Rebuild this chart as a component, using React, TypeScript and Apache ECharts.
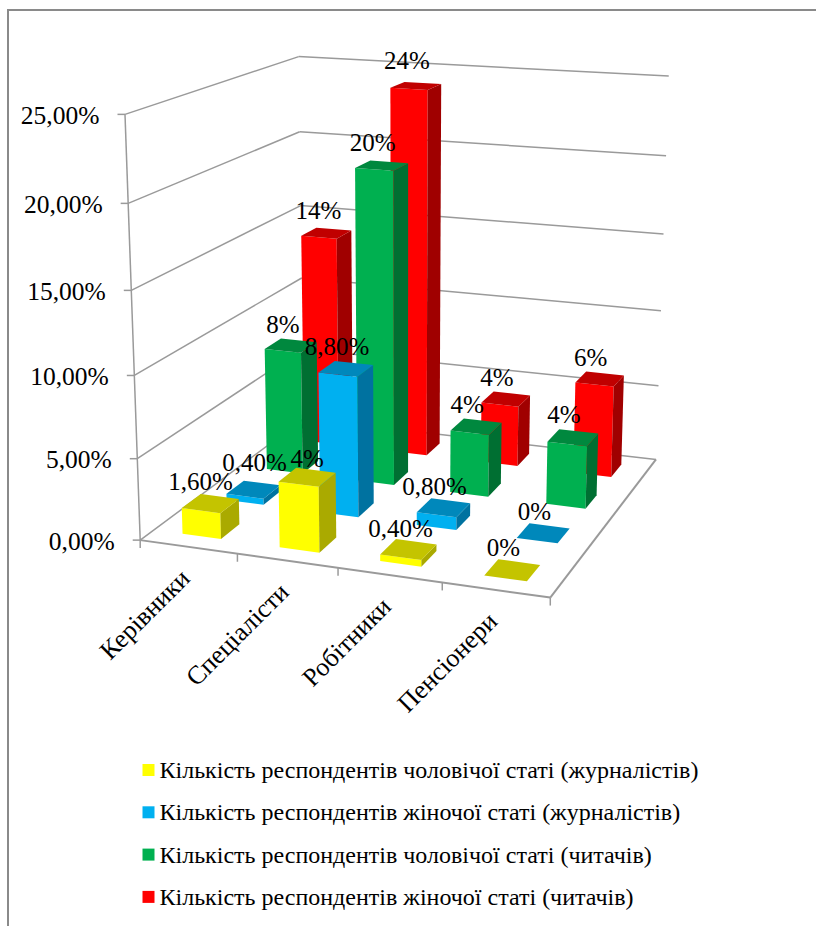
import React, { useEffect, useRef } from "react";
import * as echarts from "echarts";

// Survey data, in percent
const categories = ["Керівники", "Спеціалісти", "Робітники", "Пенсіонери"];
const maleJournalists = [1.6, 4, 0.4, 0];
const femaleJournalists = [0.4, 8.8, 0.8, 0];
const maleReaders = [8, 20, 4, 4];
const femaleReaders = [14, 24, 4, 6];
const valueTicks = [0, 5, 10, 15, 20, 25];
const maleJournalistLabels = ["1,60%", "4%", "0,40%", "0%"];
const femaleJournalistLabels = ["0,40%", "8,80%", "0,80%", "0%"];
const maleReaderLabels = ["8%", "20%", "4%", "4%"];
const femaleReaderLabels = ["14%", "24%", "4%", "6%"];
const seriesNames = [
  "Кількість респондентів чоловічої статі (журналістів)",
  "Кількість респондентів жіночої статі (журналістів)",
  "Кількість респондентів чоловічої статі (читачів)",
  "Кількість респондентів жіночої статі (читачів)",
];

const FONT = '"Liberation Serif", "Times New Roman", serif';
const AXIS_COLOR = "#9a9a9a";

// Front, side and top shades of each series, front row first
const palettes = [
  { front: "#FFFF00", side: "#AAAA00", top: "#C4C400" },
  { front: "#00B0F0", side: "#0072A0", top: "#0088BB" },
  { front: "#00B050", side: "#006F32", top: "#00883E" },
  { front: "#FF0000", side: "#A00000", top: "#C00000" },
];

// Label offsets from a bar's top centre, by series then category
const labelOffsets = [
  [[-10, -22], [0, -19], [-8, -21], [-9, -23]],
  [[1, -27], [-9, -22], [-9, -21], [-9, -22]],
  [[-8, -21], [-9, -23], [-9, -22], [-9, -23]],
  [[-8, -23], [-9, -25], [-9, -22], [-9, -21]],
];

// Box corners (across, depth, height) in unit space and where they land on screen
const cameraAnchors: [number, number, number, number, number][] = [
  [0, 0, 0, 140, 541],
  [1, 0, 0, 550, 597],
  [1, 1, 0, 656, 460],
  [0, 1, 0, 304, 418],
  [0, 0, 1, 125.5, 114],
  [0, 1, 1, 298, 57],
  [1, 1, 1, 669, 76],
];

// Least-squares fit of the projective camera through the anchors
function fitCamera() {
  const rows: number[][] = [];
  const rhs: number[] = [];
  for (const [u, v, h, x, y] of cameraAnchors) {
    rows.push([u, v, h, 1, 0, 0, 0, 0, -x * u, -x * v, -x * h]);
    rhs.push(x);
    rows.push([0, 0, 0, 0, u, v, h, 1, -y * u, -y * v, -y * h]);
    rhs.push(y);
  }
  const n = 11;
  const m = Array.from({ length: n }, () => new Array(n + 1).fill(0));
  rows.forEach((r, k) => {
    for (let i = 0; i < n; i++) {
      for (let j = 0; j < n; j++) m[i][j] += r[i] * r[j];
      m[i][n] += r[i] * rhs[k];
    }
  });
  for (let c = 0; c < n; c++) {
    let p = c;
    for (let r = c + 1; r < n; r++) if (Math.abs(m[r][c]) > Math.abs(m[p][c])) p = r;
    [m[c], m[p]] = [m[p], m[c]];
    for (let r = 0; r < n; r++) {
      if (r === c) continue;
      const f = m[r][c] / m[c][c];
      for (let j = c; j <= n; j++) m[r][j] -= f * m[c][j];
    }
  }
  return m.map((row, i) => row[n] / row[i]);
}

const cam = fitCamera();
function project(u: number, v: number, h: number): [number, number] {
  const w = cam[8] * u + cam[9] * v + cam[10] * h + 1;
  return [
    (cam[0] * u + cam[1] * v + cam[2] * h + cam[3]) / w,
    (cam[4] * u + cam[5] * v + cam[6] * h + cam[7]) / w,
  ];
}

// Hidden cartesian grid: its scales turn data into unit-box coordinates
const GRID = { left: 100, top: 100, width: 400, height: 400 };
const BAR_SHARE = 0.4;
const DEPTH_SHARE = 0.42;
const ROWS = 4;

function unitPos(api: any, cat: number, value: number) {
  const p = api.coord([cat, value]);
  return {
    u: (p[0] - GRID.left) / GRID.width,
    h: (GRID.top + GRID.height - p[1]) / GRID.height,
  };
}

function barFaces(row: number) {
  return (_: any, api: any) => {
    const { u, h } = unitPos(api, api.value(0), api.value(1));
    const halfU = (BAR_SHARE * 0.25) / 2;
    const halfV = (DEPTH_SHARE / ROWS) / 2;
    const vc = (row + 0.5) / ROWS;
    const [u0, u1, v0, v1] = [u - halfU, u + halfU, vc - halfV, vc + halfV];
    const c = palettes[row];
    const poly = (pts: number[][], fill: string) => ({
      type: "polygon",
      shape: { points: pts.map((q) => project(q[0], q[1], q[2])) },
      style: { fill },
    });
    const faces: any[] = [];
    if (h > 0) {
      faces.push(poly([[u0, v0, 0], [u1, v0, 0], [u1, v0, h], [u0, v0, h]], c.front));
      faces.push(poly([[u1, v0, 0], [u1, v1, 0], [u1, v1, h], [u1, v0, h]], c.side));
    }
    faces.push(poly([[u0, v0, h], [u1, v0, h], [u1, v1, h], [u0, v1, h]], c.top));
    return { type: "group", children: faces };
  };
}

const line = (a: number[], b: number[], width = 1.5) => ({
  type: "line",
  shape: { x1: a[0], y1: a[1], x2: b[0], y2: b[1] },
  style: { stroke: AXIS_COLOR, lineWidth: width },
});

// Walls, floor outline, ticks and axis texts
function renderTick(_: any, api: any) {
  const tick = api.value(1);
  const { h } = unitPos(api, 0, tick);
  const front = project(0, 0, h);
  const back = project(0, 1, h);
  const right = project(1, 1, h);
  const label = tick.toFixed(2).replace(".", ",") + "%";
  return {
    type: "group",
    children: [
      line(front, back),
      line(back, right),
      line([front[0] - 7.5, front[1]], front),
      {
        type: "text",
        style: {
          x: front[0] - 25.5,
          y: front[1] + 1,
          text: label,
          align: "right",
          verticalAlign: "middle",
          fontFamily: FONT,
          fontSize: 25.5,
          fill: "#000",
        },
      },
    ],
  };
}

function renderCategoryAxis(_: any, api: any) {
  const cat = api.value(0);
  const { u } = unitPos(api, cat, 0);
  const edge = u - 0.125;
  const t = project(edge, 0, 0);
  const c = project(u, 0, 0);
  return {
    type: "group",
    children: [
      line(t, [t[0], t[1] + 8]),
      {
        type: "text",
        x: c[0] - 3,
        y: c[1] + 27,
        rotation: Math.PI / 4,
        style: {
          x: 0,
          y: 0,
          text: categories[cat],
          align: "right",
          verticalAlign: "middle",
          fontFamily: FONT,
          fontSize: 26,
          fill: "#000",
        },
      },
    ],
  };
}

function renderFloor() {
  const a = project(0, 0, 0);
  const b = project(1, 0, 0);
  const c = project(1, 1, 0);
  return {
    type: "group",
    children: [
      line(project(0, 0, 1), a),
      line(a, b, 2),
      line(b, c, 2),
      line(b, [b[0], b[1] + 8]),
    ],
  };
}

function renderLabel(row: number, texts: string[]) {
  return (_: any, api: any) => {
    const cat = api.value(0);
    const { u, h } = unitPos(api, cat, api.value(1));
    const p = project(u, (row + 0.5) / ROWS, h);
    const off = labelOffsets[row][cat];
    return {
      type: "text",
      style: {
        x: p[0] + off[0],
        y: p[1] + off[1],
        text: texts[cat],
        align: "center",
        verticalAlign: "middle",
        fontFamily: FONT,
        fontSize: 25,
        fill: "#000",
      },
    };
  };
}

export default function App() {
  const ref = useRef<HTMLDivElement>(null);
  useEffect(() => {
    const chart = echarts.init(ref.current!, null, { renderer: "svg" });
    const rows = [maleJournalists, femaleJournalists, maleReaders, femaleReaders];
    const rowLabels = [maleJournalistLabels, femaleJournalistLabels, maleReaderLabels, femaleReaderLabels];
    const pairs = (vals: number[]) => vals.map((v, i) => [i, v]);

    const barSeries = [3, 2, 1, 0].map((row) => ({
      type: "custom",
      name: seriesNames[row],
      coordinateSystem: "cartesian2d",
      renderItem: barFaces(row),
      data: pairs(rows[row]),
      itemStyle: { color: palettes[row].front },
      z: 3 + (3 - row),
      silent: true,
    }));
    const labelSeries = [3, 2, 1, 0].map((row) => ({
      type: "custom",
      coordinateSystem: "cartesian2d",
      renderItem: renderLabel(row, rowLabels[row]),
      data: pairs(rows[row]),
      z: 20,
      silent: true,
    }));

    chart.setOption({
      animation: false,
      backgroundColor: "#fff",
      grid: GRID,
      xAxis: { type: "category", data: categories, show: false },
      yAxis: { type: "value", min: 0, max: 25, interval: 5, show: false },
      legend: {
        orient: "vertical",
        left: 142.5,
        top: 758,
        padding: 0,
        itemWidth: 12,
        itemHeight: 12,
        itemGap: 18.3,
        icon: "rect",
        selectedMode: false,
        data: seriesNames,
        textStyle: { fontFamily: FONT, fontSize: 24, color: "#000", lineHeight: 23 },
      },
      graphic: [
        {
          type: "polyline",
          shape: { points: [[8, 926], [8, 10], [816, 10]] },
          style: { stroke: "#8a8a8a", lineWidth: 2, fill: "none" },
          z: 0,
        },
      ],
      series: [
        {
          type: "custom",
          coordinateSystem: "cartesian2d",
          renderItem: renderTick,
          data: valueTicks.map((t) => [0, t]),
          z: 1,
          silent: true,
        },
        {
          type: "custom",
          coordinateSystem: "cartesian2d",
          renderItem: renderCategoryAxis,
          data: categories.map((_, i) => [i, 0]),
          z: 1,
          silent: true,
        },
        {
          type: "custom",
          coordinateSystem: "cartesian2d",
          renderItem: renderFloor,
          data: [[0, 0]],
          z: 1,
          silent: true,
        },
        ...barSeries,
        ...labelSeries,
      ],
    });
    return () => chart.dispose();
  }, []);
  return (
    <div
      ref={ref}
      style={{ position: "absolute", left: 0, top: 0, width: 816, height: 926 }}
    />
  );
}
